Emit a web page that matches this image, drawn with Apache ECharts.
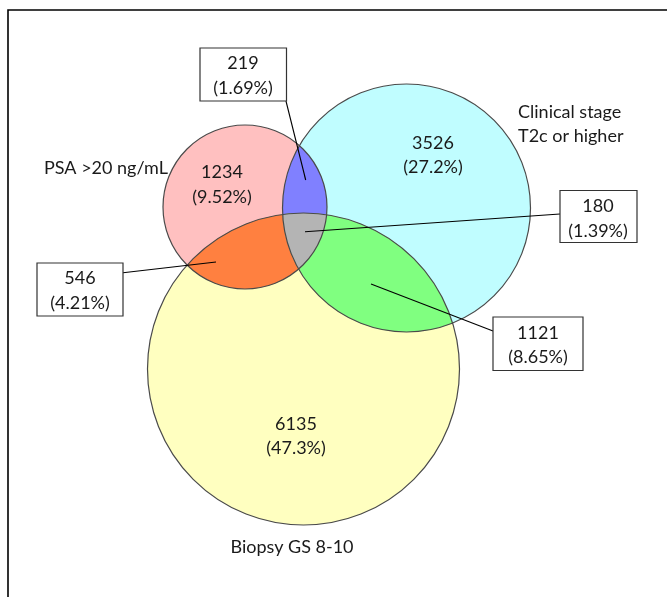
<!DOCTYPE html>
<html>
<head>
<meta charset="utf-8">
<script src="https://cdn.jsdelivr.net/npm/echarts/dist/echarts.min.js"></script>
<style>
html,body{margin:0;padding:0;background:#fff;}
#chart{width:667px;height:597px;}
</style>
</head>
<body>
<div id="chart"></div>
<script>
// ---------- DATA ----------
const setNames = ['PSA >20 ng/mL', 'Clinical stage\nT2c or higher', 'Biopsy GS 8-10'];
const regionNames = ['PSA only', 'Clinical only', 'Biopsy only', 'PSA & Clinical', 'PSA & Biopsy', 'Clinical & Biopsy', 'All three'];
const regionSets = [[0], [1], [2], [0, 1], [0, 2], [1, 2], [0, 1, 2]];
const regionCounts = [1234, 3526, 6135, 219, 546, 1121, 180];
const regionPercents = ['9.52', '27.2', '47.3', '1.69', '4.21', '8.65', '1.39'];

// ---------- LAYOUT (positions / sizes, in pixel-like axis units) ----------
const circleLayout = [
  { cx: 245, cy: 207, r: 82 },
  { cx: 406.5, cy: 208, r: 124 },
  { cx: 303.5, cy: 369, r: 156 }
];
const setLabelLayout = [
  { x: 106, y: 168, align: 'center' },
  { x: 518, y: 124, align: 'left' },
  { x: 292, y: 547, align: 'center' }
];
// label anchor (center of the two text lines); box: [x0,y0,x1,y1]; leader: [fromX,fromY,toX,toY]
const regionLabelLayout = [
  { x: 222, y: 184.5 },
  { x: 433, y: 155 },
  { x: 296, y: 436 },
  { x: 243, y: 75.5, box: [200, 48, 286.5, 101], leader: [286, 101, 305.7, 180] },
  { x: 80, y: 290.5, box: [37, 263, 123, 316], leader: [123, 272.7, 216, 262] },
  { x: 538, y: 345, box: [493, 317, 583, 370.5], leader: [493, 331, 371, 284] },
  { x: 598, y: 218.5, box: [560, 190.5, 637, 242.5], leader: [560, 214, 305, 231.7] }
];

// ---------- STYLE ----------
const setColors = ['#FFC0C0', '#C0FDFF', '#FFFFC0'];
const overlapColors = { '0,1': '#8080FF', '0,2': '#FF8040', '1,2': '#80FF80', '0,1,2': '#B4B4B4' };
const FONT = 'Lato';
const FS = 18;
const TXT = '#1a1a1a';

// ---------- GEOMETRY HELPERS ----------
function insideCircle(p, c) {
  const dx = p[0] - c.cx, dy = p[1] - c.cy;
  return Math.sqrt(dx * dx + dy * dy) <= c.r + 1e-6;
}
function circleIntersections(a, b) {
  const dx = b.cx - a.cx, dy = b.cy - a.cy;
  const d = Math.sqrt(dx * dx + dy * dy);
  if (d > a.r + b.r || d < Math.abs(a.r - b.r)) return [];
  const l = (a.r * a.r - b.r * b.r + d * d) / (2 * d);
  const h = Math.sqrt(Math.max(0, a.r * a.r - l * l));
  const mx = a.cx + l * dx / d, my = a.cy + l * dy / d;
  return [[mx + h * dy / d, my - h * dx / d], [mx - h * dy / d, my + h * dx / d]];
}
function arcPoints(ci, p, q, set) {
  const c = circleLayout[ci];
  const a0 = Math.atan2(p[1] - c.cy, p[0] - c.cx);
  const a1 = Math.atan2(q[1] - c.cy, q[0] - c.cx);
  let d = ((a1 - a0) % (2 * Math.PI) + 2 * Math.PI) % (2 * Math.PI);
  const mid = a0 + d / 2;
  const mp = [c.cx + c.r * Math.cos(mid), c.cy + c.r * Math.sin(mid)];
  const ok = set.every(k => k === ci || insideCircle(mp, circleLayout[k]));
  if (!ok) d = d - 2 * Math.PI;
  const n = 90, pts = [];
  for (let i = 0; i < n; i++) {
    const a = a0 + d * i / n;
    pts.push([c.cx + c.r * Math.cos(a), c.cy + c.r * Math.sin(a)]);
  }
  return pts;
}
function regionBoundary(set) {
  const verts = [];
  for (let i = 0; i < set.length; i++) {
    for (let j = i + 1; j < set.length; j++) {
      circleIntersections(circleLayout[set[i]], circleLayout[set[j]]).forEach(p => {
        if (set.every(k => insideCircle(p, circleLayout[k]))) verts.push({ p: p, cs: [set[i], set[j]] });
      });
    }
  }
  const gx = verts.reduce((s, v) => s + v.p[0], 0) / verts.length;
  const gy = verts.reduce((s, v) => s + v.p[1], 0) / verts.length;
  verts.sort((u, v) => Math.atan2(u.p[1] - gy, u.p[0] - gx) - Math.atan2(v.p[1] - gy, v.p[0] - gx));
  let pts = [];
  for (let k = 0; k < verts.length; k++) {
    const u = verts[k], v = verts[(k + 1) % verts.length];
    let ci;
    if (verts.length === 2) ci = set[k];
    else ci = u.cs.find(c => v.cs.indexOf(c) >= 0);
    pts = pts.concat(arcPoints(ci, u.p, v.p, set));
  }
  return pts;
}

// ---------- SERIES DATA ----------
const circleData = circleLayout.map((c, i) => ({ name: setNames[i], value: [c.cx, c.cy, c.r] }));
const overlapIdx = regionSets.map((s, i) => i).filter(i => regionSets[i].length > 1);
const overlapData = overlapIdx.map(i => ({ name: regionNames[i], value: [regionLabelLayout[i].x, regionLabelLayout[i].y, regionCounts[i]] }));
const labelData = regionCounts.map((v, i) => ({ name: regionNames[i], value: [regionLabelLayout[i].x, regionLabelLayout[i].y, v] }));
const setLabelData = setNames.map((n, i) => ({ name: n, value: [setLabelLayout[i].x, setLabelLayout[i].y] }));

const chart = echarts.init(document.getElementById('chart'), null, { renderer: 'canvas' });
chart.setOption({
  animation: false,
  backgroundColor: '#fff',
  grid: { left: 0, right: 0, top: 0, bottom: 0 },
  xAxis: { type: 'value', min: 0, max: 667, show: false },
  yAxis: { type: 'value', min: 0, max: 597, inverse: true, show: false },
  graphic: [{
    type: 'rect', z: 100,
    shape: { x: 8, y: 10, width: 700, height: 650 },
    style: { fill: 'none', stroke: '#000', lineWidth: 1.6 }
  }],
  series: [
    {
      type: 'custom', name: 'sets', z: 1, data: circleData, silent: true,
      renderItem: function (params, api) {
        const c = api.coord([api.value(0), api.value(1)]);
        const r = api.size([api.value(2), 0])[0];
        return { type: 'circle', shape: { cx: c[0], cy: c[1], r: r }, style: { fill: setColors[params.dataIndex] } };
      }
    },
    {
      type: 'custom', name: 'overlaps', z: 2, data: overlapData, silent: true,
      renderItem: function (params, api) {
        const ri = overlapIdx[params.dataIndex];
        const set = regionSets[ri];
        const pts = regionBoundary(set).map(p => api.coord(p));
        return { type: 'polygon', z2: set.length, shape: { points: pts }, style: { fill: overlapColors[set.join(',')] } };
      }
    },
    {
      type: 'custom', name: 'outlines', z: 3, data: circleData, silent: true,
      renderItem: function (params, api) {
        const c = api.coord([api.value(0), api.value(1)]);
        const r = api.size([api.value(2), 0])[0];
        return { type: 'circle', shape: { cx: c[0], cy: c[1], r: r }, style: { fill: 'none', stroke: '#4a4a4a', lineWidth: 1.2 } };
      }
    },
    {
      type: 'custom', name: 'regionLabels', z: 4, data: labelData, silent: true,
      renderItem: function (params, api) {
        const i = params.dataIndex;
        const L = regionLabelLayout[i];
        const c = api.coord([api.value(0), api.value(1)]);
        const children = [];
        if (L.leader) {
          const a = api.coord([L.leader[0], L.leader[1]]);
          const b = api.coord([L.leader[2], L.leader[3]]);
          children.push({ type: 'line', shape: { x1: a[0], y1: a[1], x2: b[0], y2: b[1] }, style: { stroke: '#000', lineWidth: 1.1 } });
        }
        if (L.box) {
          const p0 = api.coord([L.box[0], L.box[1]]);
          const p1 = api.coord([L.box[2], L.box[3]]);
          children.push({ type: 'rect', shape: { x: p0[0], y: p0[1], width: p1[0] - p0[0], height: p1[1] - p0[1] }, style: { fill: '#fff', stroke: '#333', lineWidth: 1.2 } });
        }
        children.push({
          type: 'text', x: c[0], y: c[1],
          style: {
            text: api.value(2) + '\n(' + regionPercents[i] + '%)',
            fill: TXT, font: FS + 'px ' + FONT, align: 'center', verticalAlign: 'middle', lineHeight: 24.5
          }
        });
        return { type: 'group', children: children };
      }
    },
    {
      type: 'custom', name: 'setLabels', z: 4, data: setLabelData, silent: true,
      renderItem: function (params, api) {
        const i = params.dataIndex;
        const c = api.coord([api.value(0), api.value(1)]);
        return {
          type: 'text', x: c[0], y: c[1],
          style: { text: setNames[i], fill: TXT, font: FS + 'px ' + FONT, align: setLabelLayout[i].align, verticalAlign: 'middle', lineHeight: 24 }
        };
      }
    }
  ]
});
</script>
</body>
</html>
